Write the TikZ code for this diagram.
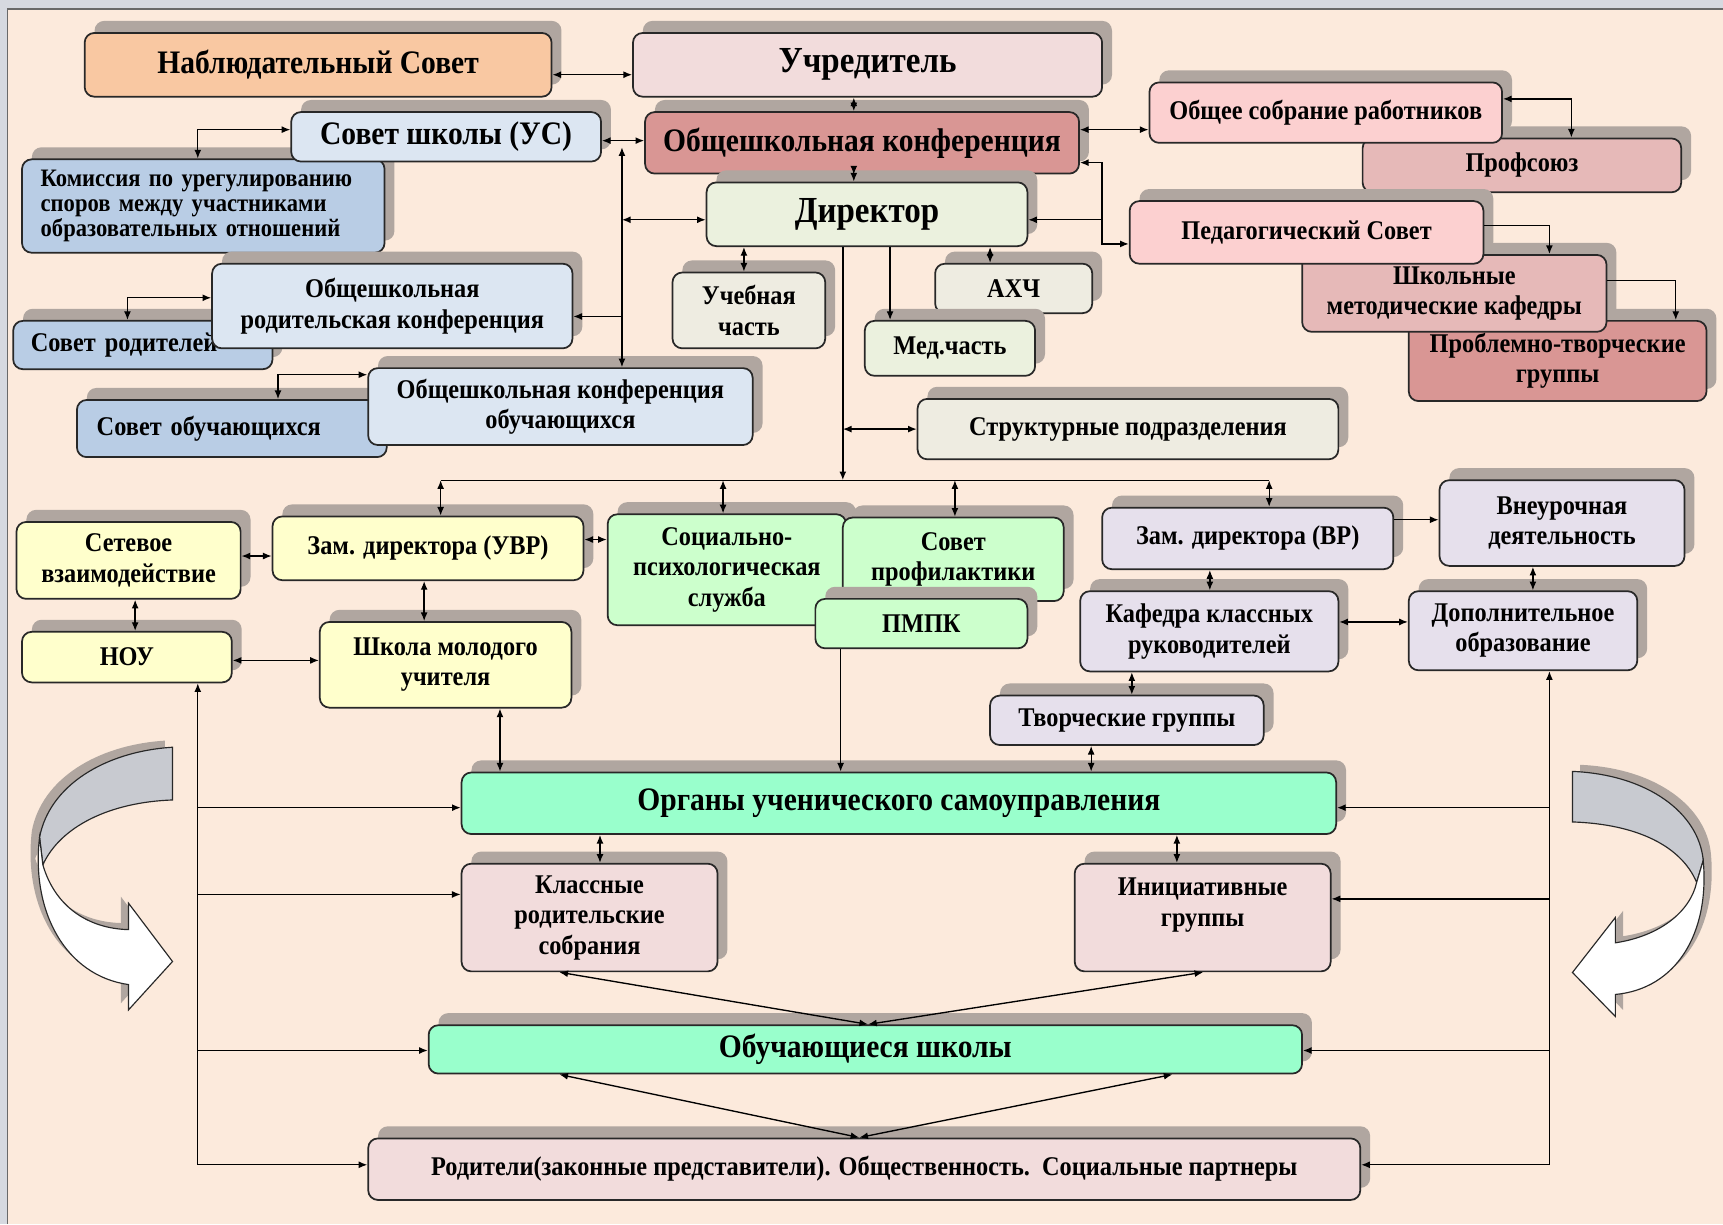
\documentclass[tikz,border=0pt]{standalone}
\usepackage{fontspec}
\setmainfont{Liberation Serif}[FakeStretch=0.9]
\usetikzlibrary{arrows.meta,shadows}

\definecolor{cPanel}{RGB}{252,234,220}
\definecolor{cFrame}{RGB}{214,217,224}
\definecolor{cLine}{RGB}{40,40,40}
\definecolor{cShadow}{RGB}{176,166,160}
\definecolor{cPeach}{RGB}{249,200,162}
\definecolor{cPink}{RGB}{242,220,220}
\definecolor{cLBlue}{RGB}{220,230,242}
\definecolor{cSteel}{RGB}{185,205,229}
\definecolor{cRose}{RGB}{217,150,148}
\definecolor{cLRose}{RGB}{252,208,208}
\definecolor{cMRose}{RGB}{230,185,184}
\definecolor{cOlive}{RGB}{235,241,222}
\definecolor{cBeige}{RGB}{238,236,225}
\definecolor{cYellow}{RGB}{255,255,204}
\definecolor{cGreen}{RGB}{204,255,204}
\definecolor{cLav}{RGB}{230,224,236}
\definecolor{cAqua}{RGB}{153,255,204}
\definecolor{cRibbon}{RGB}{200,202,208}

\newcommand\szhuge{\fontsize{19}{21}\selectfont}
\newcommand\szbig{\fontsize{17}{19}\selectfont}
\newcommand\sznorm{\fontsize{14}{15.8}\selectfont}
\newcommand\szsmall{\fontsize{13}{12.8}\selectfont}

\tikzset{
    blk/.style={draw=cLine,line width=0.9pt,rounded corners=5pt,align=center,inner sep=2pt,
        drop shadow={shadow xshift=0.18cm,shadow yshift=0.22cm,fill=cShadow,opacity=1}},
    thuge/.style={font=\bfseries\szhuge},
    tbig/.style={font=\bfseries\szbig},
    tsmall/.style={font=\bfseries\szsmall},
    ribbon/.style={draw=cLine,line width=0.6pt}
}

\begin{document}
\begin{tikzpicture}[x=0.02cm,y=-0.02cm,>={Latex[length=4.5pt,width=3.6pt]},line width=0.7pt,font=\bfseries\sznorm]
    \useasboundingbox (0,0) rectangle (1568,1114);
    \fill [cFrame] (0,0) rectangle (1568,1114);
    \fill [cPanel] (7,8) rectangle (1568,1114);
    \draw [cLine!70,line width=0.8pt] (7,1114) -- (7,8) -- (1568,8);

    \begin{scope}[shift={(-7,-6)}]
        \fill [cShadow] (157,680) .. controls (95,684) and (45,715) .. (36,762) .. controls (28,830) and (60,888) .. (117,896)
            -- (117,919) -- (157,875) -- (117,822) -- (117,846) .. controls (80,845) and (50,825) .. (39,787)
            .. controls (55,752) and (100,730) .. (157,728) -- cycle;
    \end{scope}
    \filldraw [ribbon,fill=cRibbon] (157,680) .. controls (95,684) and (45,715) .. (36,762) -- (39,787)
        .. controls (55,752) and (100,730) .. (157,728) -- cycle;
    \filldraw [ribbon,fill=white] (36,762) .. controls (28,830) and (60,888) .. (117,896) -- (117,919) -- (157,875)
        -- (117,822) -- (117,846) .. controls (80,845) and (50,825) .. (39,787) -- cycle;

    \begin{scope}[shift={(7,-6)}]
        \fill [cShadow] (1431,702) .. controls (1500,705) and (1546,740) .. (1550,783) .. controls (1556,850) and (1525,900) .. (1470,905)
            -- (1470,925) -- (1431,885) -- (1470,835) -- (1470,858) .. controls (1510,852) and (1538,830) .. (1544,803)
            .. controls (1530,770) and (1490,750) .. (1431,748) -- cycle;
    \end{scope}
    \filldraw [ribbon,fill=cRibbon] (1431,702) .. controls (1500,705) and (1546,740) .. (1550,783) -- (1544,803)
        .. controls (1530,770) and (1490,750) .. (1431,748) -- cycle;
    \filldraw [ribbon,fill=white] (1550,783) .. controls (1556,850) and (1525,900) .. (1470,905) -- (1470,925) -- (1431,885)
        -- (1470,835) -- (1470,858) .. controls (1510,852) and (1538,830) .. (1544,803) -- cycle;

    \node [blk,tbig,fill=cPeach,minimum width=8.5cm,minimum height=1.16cm] (nabl) at (289.5,59) {Наблюдательный Совет};
    \node [blk,thuge,fill=cPink,minimum width=8.54cm,minimum height=1.16cm] (uchr) at (789.5,59) {Учредитель};
    \node [blk,tsmall,fill=cSteel,align=left,text width=5.92cm,inner xsep=0.34cm,minimum height=1.7cm] (komis) at (185,187.5)
        {Комиссия по урегулированию\\споров между участниками\\образовательных отношений};
    \node [blk,tbig,fill=cLBlue,minimum width=5.64cm,minimum height=0.9cm] (sovsh) at (406,124.5) {Совет школы (УС)};
    \node [blk,tbig,fill=cRose,minimum width=7.9cm,minimum height=1.12cm] (okonf) at (784.5,130) {Общешкольная конференция};
    \node [blk,fill=cMRose,minimum width=5.8cm,minimum height=0.98cm] (profs) at (1385,150.5) {Профсоюз};
    \node [blk,fill=cLRose,minimum width=6.42cm,minimum height=1.1cm] (osr) at (1206.5,102.5) {Общее собрание работников};
    \node [blk,thuge,fill=cOlive,minimum width=5.84cm,minimum height=1.16cm] (dir) at (789,195) {Директор};
    \node [blk,fill=cRose,minimum width=5.42cm,minimum height=1.46cm] (ptg) at (1417.5,328.5) {Проблемно-творческие\\группы};
    \node [blk,fill=cMRose,minimum width=5.54cm,minimum height=1.4cm] (shmk) at (1323.5,267) {Школьные\\методические кафедры};
    \node [blk,fill=cLRose,minimum width=6.44cm,minimum height=1.14cm] (pedsov) at (1189,211.5) {Педагогический Совет};
    \node [blk,fill=cBeige,minimum width=2.78cm,minimum height=1.38cm] (ucheb) at (681.5,282.5) {Учебная\\часть};
    \node [blk,fill=cBeige,minimum width=2.86cm,minimum height=0.9cm] (ahch) at (922.5,262.5) {АХЧ};
    \node [blk,fill=cOlive,minimum width=3.1cm,minimum height=1cm] (med) at (864.5,317) {Мед.часть};
    \node [blk,fill=cSteel,align=left,text width=4.08cm,inner xsep=0.32cm,minimum height=0.88cm] (sovrod) at (130,314) {Совет родителей};
    \node [blk,fill=cLBlue,minimum width=6.56cm,minimum height=1.54cm] (obrod) at (357,278.5) {Общешкольная\\родительская конференция};
    \node [blk,fill=cSteel,align=left,text width=4.92cm,inner xsep=0.36cm,minimum height=1.04cm] (sovob) at (211,390) {Совет обучающихся};
    \node [blk,fill=cLBlue,minimum width=7cm,minimum height=1.4cm] (okob) at (510,370) {Общешкольная конференция\\обучающихся};
    \node [blk,fill=cBeige,minimum width=7.66cm,minimum height=1.1cm] (struct) at (1026.5,390.5) {Структурные подразделения};

    \node [blk,fill=cYellow,minimum width=4.08cm,minimum height=1.4cm] (setev) at (117,510) {Сетевое\\взаимодействие};
    \node [blk,fill=cYellow,minimum width=5.66cm,minimum height=1.16cm] (uvr) at (389.5,499) {Зам. директора (УВР)};
    \node [blk,fill=cGreen,minimum width=4.34cm,minimum height=2.02cm] (sps) at (661.5,518.5) {Социально-\\психологическая\\служба};
    \node [blk,fill=cGreen,minimum width=4.02cm,minimum height=1.52cm] (sovprof) at (867.5,509) {Совет\\профилактики};
    \node [blk,fill=cGreen,minimum width=3.86cm,minimum height=0.9cm] (pmpk) at (838.5,567.5) {ПМПК};
    \node [blk,fill=cYellow,minimum width=3.82cm,minimum height=0.92cm] (nou) at (115.5,598) {НОУ};
    \node [blk,fill=cYellow,minimum width=4.58cm,minimum height=1.56cm] (shmu) at (405.5,605) {Школа молодого\\учителя};
    \node [blk,fill=cLav,minimum width=5.3cm,minimum height=1.12cm] (zamvr) at (1135.5,490) {Зам. директора (ВР)};
    \node [blk,fill=cLav,minimum width=4.46cm,minimum height=1.56cm] (vneur) at (1421.5,476) {Внеурочная\\деятельность};
    \node [blk,fill=cLav,minimum width=4.7cm,minimum height=1.46cm] (kkr) at (1100.5,574.5) {Кафедра классных\\руководителей};
    \node [blk,fill=cLav,minimum width=4.16cm,minimum height=1.44cm] (dopobr) at (1386,574) {Дополнительное\\образование};
    \node [blk,fill=cLav,minimum width=4.98cm,minimum height=0.9cm] (tvgr) at (1025.5,655.5) {Творческие группы};

    \node [blk,tbig,fill=cAqua,minimum width=15.92cm,minimum height=1.12cm] (ous) at (818,731) {Органы ученического самоуправления};
    \node [blk,fill=cPink,minimum width=4.66cm,minimum height=1.96cm] (krs) at (536.5,835) {Классные\\родительские\\собрания};
    \node [blk,fill=cPink,minimum width=4.66cm,minimum height=1.96cm] (ig) at (1094.5,835) {Инициативные\\группы\\\mbox{}};
    \node [blk,tbig,fill=cAqua,minimum width=15.9cm,minimum height=0.88cm] (obsh) at (787.5,955) {Обучающиеся школы};
    \node [blk,fill=cPink,minimum width=18.06cm,minimum height=1.12cm] (rod) at (786.5,1064)
        {Родители(законные представители). Общественность.\ \ Социальные партнеры};

    \draw [<->] (nabl.east |- 0,68) -- (uchr.west |- 0,68);
    \draw [<->] (uchr.south -| 777,0) -- (okonf.north -| 777,0);
    \draw [<->] (okonf.south -| 777,0) -- (dir.north -| 777,0);
    \draw [<->] (sovsh.east |- 0,128) -- (okonf.west |- 0,128);
    \coordinate (vt) at (566,134);
    \draw [<->] (vt) -- (okob.north -| vt);
    \draw [<->] (vt |- 0,200) -- (dir.west |- 0,200);
    \draw [->] (vt |- 0,288) -- (obrod.east |- 0,288);
    \draw [<->] (sovsh.west |- 0,118) -| (komis.north -| 180,0);
    \draw [<->] (obrod.west |- 0,271) -| (sovrod.north -| 116,0);
    \draw [<->] (okob.west |- 0,341) -| (sovob.north -| 253,0);
    \draw [<->] (osr.east |- 0,90) -| (profs.north -| 1430,0);
    \draw [<->] (okonf.east |- 0,118) -- (osr.west |- 0,118);
    \coordinate (pk) at (1003,200);
    \draw [<->] (okonf.east |- 0,148) -| (pk |- 0,222) -- (pedsov.west |- 0,222);
    \draw [->] (pk) -- (dir.east |- pk);
    \draw [->] (pedsov.east |- 0,205) -| (shmk.north -| 1410,0);
    \draw [->] (shmk.east |- 0,255) -| (ptg.north -| 1525,0);
    \draw [<->] (dir.south -| 677,0) -- (ucheb.north -| 677,0);
    \draw [->] (dir.south -| 810,0) -- (med.north -| 810,0);
    \draw [<->] (dir.south -| 901,0) -- (ahch.north -| 901,0);

    \coordinate (bus) at (767,437);
    \draw [->] (dir.south -| bus) -- (bus);
    \draw (401,437) -- (1155,437);
    \draw [<->] (bus |- struct.west) -- (struct.west);
    \draw [<->] (401,437) -- (uvr.north -| 401,0);
    \draw [<->] (658,437) -- (sps.north -| 658,0);
    \draw [<->] (869,437) -- (sovprof.north -| 869,0);
    \draw [<->] (1155,437) -- (zamvr.north -| 1155,0);

    \draw [<->] (setev.east |- 0,506) -- (uvr.west |- 0,506);
    \draw [<->] (uvr.east |- 0,491) -- (sps.west |- 0,491);
    \draw [<->] (setev.south -| 123,0) -- (nou.north -| 123,0);
    \draw [<->] (uvr.south -| 386,0) -- (shmu.north -| 386,0);
    \draw [<->] (nou.east |- 0,601) -- (shmu.west |- 0,601);
    \draw [<->] (shmu.south -| 455,0) -- (ous.north -| 455,0);
    \draw [->] (pmpk.south -| 765,0) -- (ous.north -| 765,0);
    \draw [->] (zamvr.east |- 0,473) -- (vneur.west |- 0,473);
    \draw [<->] (zamvr.south -| 1101,0) -- (kkr.north -| 1101,0);
    \draw [<->] (vneur.south -| 1395,0) -- (dopobr.north -| 1395,0);
    \draw [<->] (kkr.east |- 0,566) -- (dopobr.west |- 0,566);
    \draw [<->] (kkr.south -| 1030,0) -- (tvgr.north -| 1030,0);
    \draw [<->] (tvgr.south -| 993,0) -- (ous.north -| 993,0);
    \draw [<->] (ous.south -| 546,0) -- (krs.north -| 546,0);
    \draw [<->] (ous.south -| 1071,0) -- (ig.north -| 1071,0);

    \coordinate (lb) at (180,1060);
    \draw [->] (lb) -- (nou.south -| lb);
    \draw [->] (lb |- 0,735) -- (ous.west |- 0,735);
    \draw [->] (lb |- 0,814) -- (krs.west |- 0,814);
    \draw [->] (lb |- 0,956) -- (obsh.west |- 0,956);
    \draw [->] (lb) -- (rod.west |- lb);
    \coordinate (rb) at (1410,1060);
    \draw [->] (rb) -- (dopobr.south -| rb);
    \draw [->] (rb |- 0,735) -- (ous.east |- 0,735);
    \draw [->] (rb |- 0,818) -- (ig.east |- 0,818);
    \draw [->] (rb |- 0,956) -- (obsh.east |- 0,956);
    \draw [->] (rb) -- (rod.east |- rb);

    \draw [<->] (krs.south -| 509,0) -- (obsh.north -| 790,0);
    \draw [<->] (ig.south -| 1095,0) -- (obsh.north -| 790,0);
    \draw [<->] (obsh.south -| 509,0) -- (rod.north -| 782,0);
    \draw [<->] (obsh.south -| 1067,0) -- (rod.north -| 782,0);
\end{tikzpicture}
\end{document}
